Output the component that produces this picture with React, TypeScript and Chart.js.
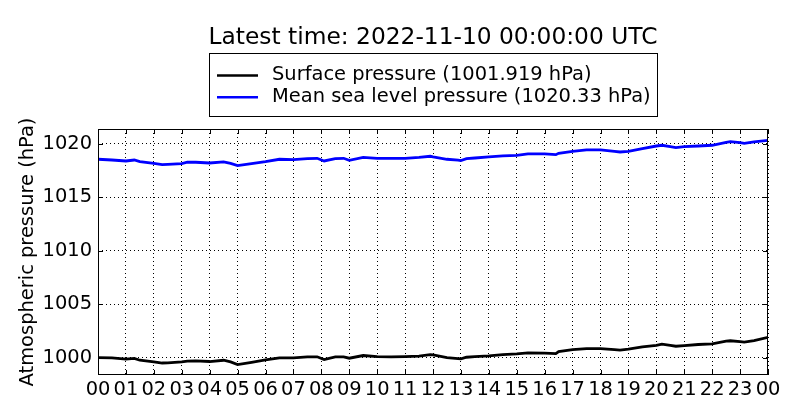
import { useEffect, useRef } from "react"
import { Chart, registerables, type Plugin } from "chart.js"

Chart.register(...registerables)

// hours since 00 UTC on the previous day (24 = latest time)
const hours = [
  0, 0.5, 1, 1.3, 1.5, 2, 2.3, 2.5, 3, 3.2, 3.5, 4, 4.5, 4.75, 5, 5.5, 6, 6.5, 7, 7.5,
  7.85, 8.1, 8.5, 8.8, 9, 9.5, 10, 10.5, 11, 11.5, 11.9, 12, 12.5, 12.9, 13, 13.2, 13.5,
  14, 14.5, 15, 15.4, 16, 16.4, 16.5, 17, 17.5, 18, 18.5, 18.7, 19, 19.5, 20, 20.2, 20.5,
  20.7, 21, 21.5, 22, 22.5, 22.65, 23, 23.15, 23.5, 24,
]

const surfacePressure = [
  1000.03, 1000.0, 999.88, 999.95, 999.78, 999.63, 999.52, 999.53, 999.63, 999.7, 999.72,
  999.66, 999.78, 999.62, 999.38, 999.59, 999.81, 1000.0, 1000.0, 1000.09, 1000.1, 999.84,
  1000.09, 1000.1, 999.97, 1000.22, 1000.12, 1000.09, 1000.12, 1000.16, 1000.31, 1000.28,
  1000.03, 999.94, 999.91, 1000.06, 1000.12, 1000.19, 1000.31, 1000.37, 1000.47, 1000.44,
  1000.4, 1000.59, 1000.78, 1000.87, 1000.87, 1000.78, 1000.72, 1000.81, 1001.03, 1001.18,
  1001.28, 1001.18, 1001.09, 1001.15, 1001.25, 1001.31, 1001.56, 1001.6, 1001.53, 1001.47,
  1001.62, 1001.92,
]

const seaLevelPressure = [
  1018.57, 1018.5, 1018.41, 1018.5, 1018.35, 1018.19, 1018.07, 1018.1, 1018.16, 1018.29,
  1018.29, 1018.22, 1018.32, 1018.19, 1017.98, 1018.16, 1018.35, 1018.57, 1018.54, 1018.63,
  1018.66, 1018.41, 1018.63, 1018.66, 1018.47, 1018.75, 1018.66, 1018.66, 1018.66, 1018.75,
  1018.85, 1018.79, 1018.57, 1018.5, 1018.44, 1018.63, 1018.69, 1018.79, 1018.88, 1018.94,
  1019.07, 1019.07, 1019.0, 1019.13, 1019.31, 1019.44, 1019.44, 1019.31, 1019.25, 1019.31,
  1019.56, 1019.81, 1019.88, 1019.75, 1019.66, 1019.75, 1019.81, 1019.88, 1020.16, 1020.22,
  1020.12, 1020.06, 1020.19, 1020.33,
]

const seriesLabels = ["Surface pressure (1001.919 hPa)", "Mean sea level pressure (1020.33 hPa)"]
const seriesColors = ["#000000", "#0000ff"]
const titleText = "Latest time: 2022-11-10 00:00:00 UTC"
const yTitle = "Atmospheric pressure (hPa)"

const FONT = "'DejaVu Sans', sans-serif"
const BASE = 19.44 // 14pt at 100 dpi
const LARGE = 23.33

// matplotlib-like frame, inward ticks, title, boxed legend and y label
const decorations: Plugin<"line"> = {
  id: "decorations",
  afterDatasetsDraw(chart) {
    const { ctx, chartArea: a, scales } = chart
    ctx.save()
    ctx.strokeStyle = "#000"
    ctx.lineWidth = 1
    ctx.setLineDash([])
    ctx.strokeRect(a.left + 0.5, a.top + 0.5, a.right - a.left - 1, a.bottom - a.top - 1)
    const tl = 5
    ctx.beginPath()
    for (const t of scales.x.ticks) {
      const px = Math.round(scales.x.getPixelForValue(t.value)) + 0.5
      ctx.moveTo(px, a.bottom)
      ctx.lineTo(px, a.bottom - tl)
      ctx.moveTo(px, a.top)
      ctx.lineTo(px, a.top + tl)
    }
    for (const t of scales.y.ticks) {
      const py = Math.round(scales.y.getPixelForValue(t.value)) + 0.5
      ctx.moveTo(a.left, py)
      ctx.lineTo(a.left + tl, py)
      ctx.moveTo(a.right, py)
      ctx.lineTo(a.right - tl, py)
    }
    ctx.stroke()
    ctx.restore()
  },
  afterDraw(chart) {
    const { ctx, chartArea: a } = chart
    const cx = (a.left + a.right) / 2
    ctx.save()
    ctx.fillStyle = "#000"
    ctx.textBaseline = "alphabetic"

    ctx.font = `${LARGE}px ${FONT}`
    ctx.textAlign = "center"
    ctx.fillText(titleText, cx, 44)

    // legend box
    ctx.font = `${BASE}px ${FONT}`
    const boxL = 209.5
    const boxT = 53.5
    const boxW = 448
    const boxH = 63
    ctx.fillStyle = "#fff"
    ctx.fillRect(boxL, boxT, boxW, boxH)
    ctx.strokeStyle = "#000"
    ctx.lineWidth = 1
    ctx.strokeRect(boxL, boxT, boxW, boxH)
    ctx.textAlign = "left"
    chart.data.datasets.forEach((ds, i) => {
      const ly = 75.5 + i * 21.8
      ctx.strokeStyle = ds.borderColor as string
      ctx.lineWidth = 2.5
      ctx.beginPath()
      ctx.moveTo(217, ly)
      ctx.lineTo(258, ly)
      ctx.stroke()
      ctx.fillStyle = "#000"
      ctx.fillText(ds.label ?? "", 272, ly + 4.8)
    })

    // y axis title
    ctx.translate(33, (a.top + a.bottom) / 2)
    ctx.rotate(-Math.PI / 2)
    ctx.textAlign = "center"
    ctx.fillText(yTitle, 0, 0)
    ctx.restore()
  },
}

export default function App() {
  const chartRef = useRef<HTMLCanvasElement>(null)
  const chartInstance = useRef<Chart | null>(null)

  useEffect(() => {
    document.body.style.margin = "0"
    if (!chartRef.current) return
    if (chartInstance.current) chartInstance.current.destroy()
    const ctx = chartRef.current.getContext("2d")
    if (!ctx) return

    const toPoints = (vals: number[]) => vals.map((v, i) => ({ x: hours[i], y: v }))

    chartInstance.current = new Chart(ctx, {
      type: "line",
      data: {
        datasets: [
          {
            label: seriesLabels[0],
            data: toPoints(surfacePressure),
            borderColor: seriesColors[0],
            backgroundColor: seriesColors[0],
            borderWidth: 2.8,
            pointRadius: 0,
            tension: 0,
          },
          {
            label: seriesLabels[1],
            data: toPoints(seaLevelPressure),
            borderColor: seriesColors[1],
            backgroundColor: seriesColors[1],
            borderWidth: 2.8,
            pointRadius: 0,
            tension: 0,
          },
        ],
      },
      options: {
        responsive: false,
        animation: false,
        layout: { padding: { top: 129, right: 32, left: 0, bottom: 0 } },
        plugins: {
          legend: { display: false },
          title: { display: false },
          tooltip: { enabled: false },
        },
        scales: {
          x: {
            type: "linear",
            min: 0,
            max: 24,
            afterFit: (scale) => {
              scale.height = 45
            },
            ticks: {
              stepSize: 1,
              autoSkip: false,
              maxRotation: 0,
              includeBounds: false,
              padding: 3,
              color: "#000",
              font: { family: FONT, size: BASE },
              callback: (v) => String(Number(v) % 24).padStart(2, "0"),
            },
            grid: { color: "#000", lineWidth: 1, drawTicks: false },
            border: { display: false, dash: [1, 3] },
          },
          y: {
            min: 998.4,
            max: 1021.4,
            afterFit: (scale) => {
              scale.width = 98
            },
            ticks: {
              stepSize: 5,
              includeBounds: false,
              padding: 6,
              color: "#000",
              font: { family: FONT, size: BASE },
              callback: (v) => String(v),
            },
            grid: { color: "#000", lineWidth: 1, drawTicks: false },
            border: { display: false, dash: [1, 3] },
          },
        },
      },
      plugins: [decorations],
    })

    return () => {
      if (chartInstance.current) {
        chartInstance.current.destroy()
        chartInstance.current = null
      }
    }
  }, [])

  return (
    <div style={{ width: 800, height: 420 }}>
      <canvas ref={chartRef} width={800} height={420} />
    </div>
  )
}
